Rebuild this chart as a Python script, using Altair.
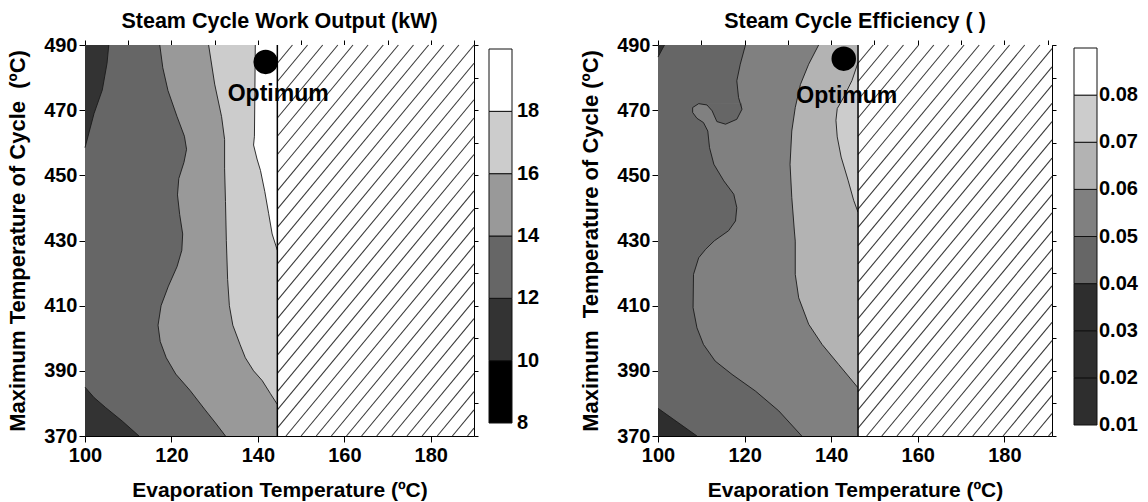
import altair as alt
import pandas as pd

FONT = "Liberation Sans"

# ---------------- data ----------------
Y_DOMAIN = [370, 490]
Y_MAJOR = [370, 390, 410, 430, 450, 470, 490]
Y_MINOR = [370, 380, 390, 400, 410, 420, 430, 440, 450, 460, 470, 480, 490]
X_MAJOR = [100, 120, 140, 160, 180]
X_MINOR = [100, 110, 120, 130, 140, 150, 160, 170, 180, 190]

# Left panel: Steam Cycle Work Output (kW)
work_xdomain = [100, 190]
work_levels = [8, 10, 12, 14, 16, 18, 20]
work_colors = ["#000000", "#333333", "#666666", "#999999", "#cccccc", "#ffffff"]
work_label_vals = [8, 10, 12, 14, 16, 18]
work_labels = ["8", "10", "12", "14", "16", "18"]
work_base_color = "#666666"
work_c12_top_y = [458.5, 463.0, 469.0, 476.2, 484.4, 490.0]
work_c12_top_x = [100.0, 100.9, 102.1, 104.0, 105.1, 105.5]
work_c12_bot_y = [370.0, 374.6, 378.7, 381.8, 385.0]
work_c12_bot_x = [112.5, 108.6, 104.8, 102.1, 100.0]
work_c14_y = [370, 374, 378, 384, 389, 394, 399, 404, 410, 416, 422, 427, 432,
              438, 444, 449, 454, 458, 462, 468, 476, 483, 490]
work_c14_x = [132.5, 130.2, 127.8, 124.3, 121.0, 118.8, 117.4, 116.9, 117.6, 119.3,
              121.3, 122.4, 122.6, 121.9, 121.4, 121.7, 122.9, 123.5, 123.0, 121.3,
              119.2, 118.0, 117.3]
work_c16_y = [379.7, 383, 387, 390, 394, 398, 404, 410, 418, 430, 442, 452, 461, 468, 478, 490]
work_c16_x = [144.5, 142.9, 141.0, 139.0, 137.1, 135.9, 134.2, 133.4, 133.0, 132.7,
              132.5, 132.3, 132.3, 131.6, 130.0, 128.6]
work_c18_y = [427.0, 432.0, 438.2, 445.0, 451.5, 455.0, 459.3, 462.0, 475.0, 490.0]
work_c18_x = [144.5, 143.3, 142.5, 141.6, 140.6, 139.8, 139.0, 139.2, 139.3, 139.4]
work_infeasible_x = 144.5
work_opt_x, work_opt_y = 141.8, 484.8
work_lab_x, work_lab_y = 144.7, 475.0

# Right panel: Steam Cycle Efficiency ( )
eff_xdomain = [100, 191]
eff_levels = [0.01, 0.02, 0.03, 0.04, 0.05, 0.06, 0.07, 0.08, 0.09]
eff_colors = ["#2e2e2e", "#2e2e2e", "#2e2e2e", "#666666", "#808080", "#b3b3b3", "#cccccc", "#ffffff"]
eff_label_vals = [0.01, 0.02, 0.03, 0.04, 0.05, 0.06, 0.07, 0.08]
eff_labels = ["0.01", "0.02", "0.03", "0.04", "0.05", "0.06", "0.07", "0.08"]
eff_base_color = "#666666"
eff_c04_tl_y = [486.3, 490.0]
eff_c04_tl_x = [100.0, 101.5]
eff_c04_bl_y = [370.0, 378.5]
eff_c04_bl_x = [109.0, 100.0]
# 0.05 contour, traced from the top edge down to the bottom edge
eff_c05_y = [490.0, 484.1, 479.0, 473.9, 472.1, 470.3, 467.2, 465.7, 466.5, 469.8, 471.6,
             472.0, 470.8, 469.3, 467.5, 466.2, 463.6, 458.5, 453.4, 448.3, 444.2, 440.1,
             436.0, 433.0, 429.9, 427.3, 424.7, 419.6, 409.4, 403.2, 398.1, 393.0, 388.9,
             383.8, 377.7, 370.0]
eff_c05_x = [120.2, 119.0, 118.2, 118.6, 119.0, 119.4, 118.2, 115.6, 113.6, 112.5, 111.3,
             109.4, 108.0, 108.0, 109.0, 110.5, 111.5, 111.9, 112.9, 115.2, 117.5, 118.2,
             117.9, 116.3, 113.0, 111.0, 109.4, 108.2, 108.1, 109.0, 110.5, 113.2, 117.1,
             122.5, 127.9, 133.2]
eff_c06_y = [384.8, 392.0, 398.1, 404.3, 412.4, 419.6, 429.8, 432.9, 443.2, 453.4, 463.6,
             470.8, 477.9, 484.1, 490.0]
eff_c06_x = [146.2, 141.7, 137.9, 134.8, 132.5, 131.7, 131.7, 131.5, 130.9, 130.5, 130.9,
             131.7, 132.9, 134.8, 137.1]
eff_c07_y = [438.7, 442.3, 448.5, 455.6, 461.8, 466.9, 470.5, 474.0, 479.1, 484.6]
eff_c07_x = [146.2, 145.2, 143.9, 142.3, 141.4, 141.1, 141.4, 142.9, 144.8, 146.2]
eff_infeasible_x = 146.2
eff_opt_x, eff_opt_y = 142.9, 485.8
eff_lab_x, eff_lab_y = 143.6, 474.3

# ---------------- layout / style constants ----------------
H = 391
W_LEFT = 389
W_RIGHT = 394
SPACING = 15
CB1_W, CB1_BAR, CB1_LAB = 154, 0, 28
CB2_W, CB2_BAR, CB2_LAB = 75, 7, 32
CB_BAR_W = 23
HATCH_SPACING = 3.5   # in evaporation-temperature units
HATCH_SLOPE = 1.6     # max-temp units per evaporation-temperature unit
LINE_COLOR = "#1a1a1a"


def hatch_rows(x0, x1, y0, y1):
    span = (y1 - y0) / HATCH_SLOPE
    rows = []
    c = x0 - span
    while c < x1:
        xs, xe = max(c, x0), min(c + span, x1)
        if xe > xs:
            rows.append({"hx": xs, "hy": y0 + HATCH_SLOPE * (xs - c),
                         "hx2": xe, "hy2": y0 + HATCH_SLOPE * (xe - c)})
        c += HATCH_SPACING
    return pd.DataFrame(rows)


def harea(ys, xs, x2):
    df = pd.DataFrame({"y": ys, "x": xs})
    df["x2"] = x2
    return df.sort_values("y")


def path_df(ys, xs):
    return pd.DataFrame({"y": ys, "x": xs, "i": list(range(len(ys)))})


def panel(xdom, width, base_color, h_areas, v_areas, lines, hatch_x, opt, lab, title, ytitle):
    xsc = alt.Scale(domain=xdom, nice=False, zero=False)
    ysc = alt.Scale(domain=Y_DOMAIN, nice=False, zero=False)
    common = dict(labelFont=FONT, labelFontSize=20, labelFontWeight="bold", labelColor="black",
                  tickColor="black", tickWidth=1, domainColor="black", domainWidth=1, grid=False,
                  titleFont=FONT, titleFontWeight="bold", titleColor="black")
    bottom_axis = alt.Axis(orient="bottom", values=X_MAJOR, tickSize=6, labelBaseline="alphabetic",
                           labelPadding=19, labelFlush=False, labelOverlap=False,
                           title="Evaporation Temperature (ºC)", titleFontSize=21,
                           titleBaseline="alphabetic", titleY=60, **common)
    left_axis = alt.Axis(orient="left", values=Y_MAJOR, tickSize=6, labelPadding=2,
                         labelFlush=False, labelOverlap=False, title=ytitle, titleFontSize=22,
                         titleX=-68, titleY=H / 2, titleAngle=270, titleBaseline="middle",
                         titleAlign="center", **common)
    top_axis = alt.Axis(orient="top", values=[v for v in X_MINOR if v <= xdom[1]], labels=False,
                        tickSize=5, title=None, **common)
    right_axis = alt.Axis(orient="right", values=Y_MINOR, labels=False, tickSize=4, title=None,
                          **common)

    layers = []
    base = pd.DataFrame({"x": [xdom[0]], "x2": [hatch_x], "y": [Y_DOMAIN[0]], "y2": [Y_DOMAIN[1]]})
    layers.append(alt.Chart(base).mark_rect(color=base_color).encode(
        x=alt.X("x:Q", scale=xsc, axis=bottom_axis), x2="x2:Q",
        y=alt.Y("y:Q", scale=ysc, axis=left_axis), y2="y2:Q"))
    for df, color in h_areas:
        layers.append(alt.Chart(df).mark_area(orient="horizontal", color=color).encode(
            y=alt.Y("y:Q", scale=ysc, axis=None), x=alt.X("x:Q", scale=xsc, axis=None), x2="x2:Q"))
    for df, color in v_areas:
        layers.append(alt.Chart(df).mark_area(orient="vertical", color=color).encode(
            x=alt.X("x:Q", scale=xsc, axis=None), y=alt.Y("y:Q", scale=ysc, axis=None), y2="y2:Q"))
    for df in lines:
        layers.append(alt.Chart(df).mark_line(color=LINE_COLOR, strokeWidth=0.9).encode(
            x=alt.X("x:Q", scale=xsc, axis=None), y=alt.Y("y:Q", scale=ysc, axis=None),
            order="i:Q"))
    hb = pd.DataFrame({"x": [hatch_x], "x2": [xdom[1]], "y": [Y_DOMAIN[0]], "y2": [Y_DOMAIN[1]]})
    layers.append(alt.Chart(hb).mark_rect(color="white").encode(
        x=alt.X("x:Q", scale=xsc, axis=top_axis), x2="x2:Q",
        y=alt.Y("y:Q", scale=ysc, axis=right_axis), y2="y2:Q"))
    layers.append(alt.Chart(hatch_rows(hatch_x, xdom[1], Y_DOMAIN[0], Y_DOMAIN[1])).mark_rule(
        color="#3a3a3a", strokeWidth=1.1).encode(
        x=alt.X("hx:Q", scale=xsc, axis=None), y=alt.Y("hy:Q", scale=ysc, axis=None),
        x2="hx2:Q", y2="hy2:Q"))
    layers.append(alt.Chart(hb).mark_rule(color="black", strokeWidth=1.5).encode(
        x=alt.X("x:Q", scale=xsc, axis=None), y=alt.Y("y:Q", scale=ysc, axis=None), y2="y2:Q"))
    layers.append(alt.Chart(pd.DataFrame({"x": [opt[0]], "y": [opt[1]]})).mark_circle(
        size=600, color="black", opacity=1).encode(
        x=alt.X("x:Q", scale=xsc, axis=None), y=alt.Y("y:Q", scale=ysc, axis=None)))
    layers.append(alt.Chart(pd.DataFrame({"x": [lab[0]], "y": [lab[1]], "t": ["Optimum"]})).mark_text(
        font=FONT, fontSize=23, fontWeight="bold", color="black", align="center", baseline="middle").encode(
        x=alt.X("x:Q", scale=xsc, axis=None), y=alt.Y("y:Q", scale=ysc, axis=None), text="t:N"))

    return alt.layer(*layers).resolve_axis(x="independent", y="independent").properties(
        width=width, height=H,
        title=alt.TitleParams(text=title, font=FONT, fontSize=21.5, fontWeight="bold", color="black",
                              anchor="middle", frame="group", offset=-14, baseline="alphabetic"))


def colorbar(levels, colors, vals, labels, width, bar_x, lab_x, top_px, bot_px):
    px_per_unit = (bot_px - top_px) / (levels[-1] - levels[0])
    ydom = [levels[0] - (H - bot_px) / px_per_unit, levels[-1] + top_px / px_per_unit]
    ysc = alt.Scale(domain=ydom, nice=False, zero=False)
    df = pd.DataFrame({"lo": levels[:-1], "hi": levels[1:], "c": colors})
    bars = alt.Chart(df).mark_rect(stroke="#111111", strokeWidth=1).encode(
        y=alt.Y("lo:Q", scale=ysc, axis=None), y2="hi:Q",
        x=alt.value(bar_x), x2=alt.value(bar_x + CB_BAR_W),
        color=alt.Color("c:N", scale=None))
    txt = alt.Chart(pd.DataFrame({"v": vals, "t": labels})).mark_text(
        font=FONT, fontSize=20, fontWeight="bold", color="black", align="left", baseline="middle").encode(
        y=alt.Y("v:Q", scale=ysc, axis=None), x=alt.value(lab_x), text="t:N")
    return alt.layer(bars, txt).properties(width=width, height=H)


# ---- left panel
w_h = [
    (harea(work_c12_top_y, work_c12_top_x, 100.0), work_colors[1]),
    (harea(work_c12_bot_y, work_c12_bot_x, 100.0), work_colors[1]),
    (harea(work_c14_y, work_c14_x, work_infeasible_x), work_colors[3]),
    (harea(work_c16_y, work_c16_x, work_infeasible_x), work_colors[4]),
    (harea(work_c18_y, work_c18_x, work_infeasible_x), work_colors[5]),
]
w_lines = [path_df(work_c12_top_y, work_c12_top_x), path_df(work_c12_bot_y, work_c12_bot_x),
           path_df(work_c14_y, work_c14_x), path_df(work_c16_y, work_c16_x),
           path_df(work_c18_y, work_c18_x)]
left = panel(work_xdomain, W_LEFT, work_base_color, w_h, [], w_lines, work_infeasible_x,
             (work_opt_x, work_opt_y), (work_lab_x, work_lab_y),
             "Steam Cycle Work Output (kW)", "Maximum Temperature of Cycle\u00a0 (ºC)")

# ---- right panel
idx_left = list(range(0, 5)) + list(range(11, len(eff_c05_y)))
e_left = harea([eff_c05_y[i] for i in idx_left], [eff_c05_x[i] for i in idx_left], eff_infeasible_x)
idx_finger = list(range(5, 12))
finger = pd.DataFrame({"x": [eff_c05_x[i] for i in idx_finger], "y": [eff_c05_y[i] for i in idx_finger]})
finger["y2"] = eff_c05_y[4]
finger = finger.sort_values("x")
e_h = [
    (harea(eff_c04_tl_y, eff_c04_tl_x, 100.0), eff_colors[2]),
    (harea(eff_c04_bl_y, eff_c04_bl_x, 100.0), eff_colors[2]),
    (e_left, eff_colors[4]),
    (harea(eff_c06_y, eff_c06_x, eff_infeasible_x), eff_colors[5]),
    (harea(eff_c07_y, eff_c07_x, eff_infeasible_x), eff_colors[6]),
]
e_v = [(finger, eff_colors[3])]
e_lines = [path_df(eff_c04_tl_y, eff_c04_tl_x), path_df(eff_c04_bl_y, eff_c04_bl_x),
           path_df(eff_c05_y, eff_c05_x), path_df(eff_c06_y, eff_c06_x),
           path_df(eff_c07_y, eff_c07_x)]
right = panel(eff_xdomain, W_RIGHT, eff_base_color, e_h, e_v, e_lines, eff_infeasible_x,
              (eff_opt_x, eff_opt_y), (eff_lab_x, eff_lab_y),
              "Steam Cycle Efficiency ( )", "Maximum\u00a0 Temperature of Cycle (ºC)")

cb1 = colorbar(work_levels, work_colors, work_label_vals, work_labels, CB1_W, CB1_BAR, CB1_LAB, 4, 378)
cb2 = colorbar(eff_levels, eff_colors, eff_label_vals, eff_labels, CB2_W, CB2_BAR, CB2_LAB, 3, 380)

chart = alt.HConcatChart(hconcat=[left, cb1, right, cb2], spacing=SPACING, bounds="flush").resolve_scale(
    x="independent", y="independent"
).properties(
    autosize=alt.AutoSizeParams(type="pad"),
    padding={"left": 5, "top": 10, "right": 2, "bottom": 2},
    background="white",
).configure(font=FONT).configure_view(stroke="transparent")

chart.save("out.html", embed_options={"renderer": "svg", "actions": False})
